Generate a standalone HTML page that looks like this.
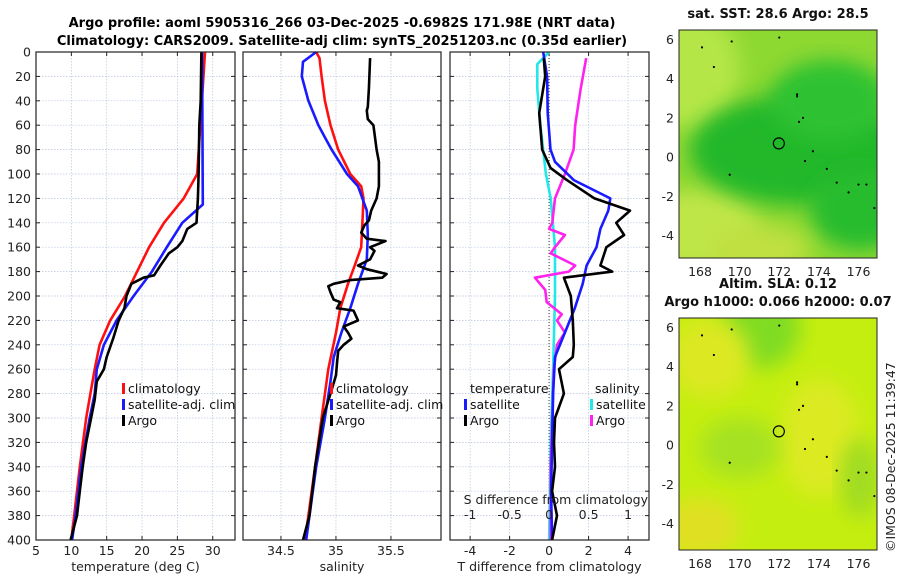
<!DOCTYPE html>
<html><head><meta charset="utf-8"><style>
body{margin:0;background:#fff;width:900px;height:580px;overflow:hidden;font-family:"DejaVu Sans","Liberation Sans",sans-serif;}
svg text{font-family:"DejaVu Sans","Liberation Sans",sans-serif;}
</style></head><body>
<svg id="fig" width="900" height="580" xmlns="http://www.w3.org/2000/svg">
<text x="342" y="27" text-anchor="middle" font-size="13" font-weight="bold">Argo profile: aoml 5905316_266 03-Dec-2025 -0.6982S 171.98E (NRT data)</text>
<text x="342" y="45" text-anchor="middle" font-size="13" font-weight="bold">Climatology: CARS2009. Satellite-adj clim: synTS_20251203.nc (0.35d earlier)</text>
<defs>
<filter id="bl" x="-20%" y="-20%" width="140%" height="140%"><feGaussianBlur stdDeviation="10"/></filter>
<clipPath id="c1"><rect x="679" y="30" width="198" height="228"/></clipPath>
<clipPath id="c2"><rect x="679" y="318" width="198" height="232"/></clipPath>
</defs>
<g id="maps"></g>
</svg>
<script>
// ---- profile data (depth in m) ----
const climDepth=[0,100,120,140,160,180,200,220,240,260,280,300,340,380,400];
const climTemp=[28.9,27.8,25.9,23.1,21,19.3,17.6,15.5,14,13.3,12.7,12.1,11.2,10.4,10];
const satDepth=[0,125,140,160,180,200,220,240,260,280,300,340,380,400];
const satTemp=[28.5,28.6,25.7,23.5,21.4,18.8,16.4,14.6,13.6,13.3,12.6,11.4,10.6,10.1];
const argoTDepth=[0,40,60,100,120,140,145,155,160,165,175,183,185,190,200,210,220,235,250,260,270,285,300,320,340,360,380,400];
const argoTemp=[28.4,28.3,28.1,28,27.9,27.7,26.4,25.7,25,23.8,22.6,21.7,20.2,18.5,17.8,17.5,16.7,15.9,15,14.6,13.6,13.3,12.8,12.1,11.6,11.2,10.8,9.9];
const climSDepth=[0,5,20,40,60,80,100,110,120,140,160,175,190,210,230,260,300,340,380,400];
const climSal=[34.82,34.85,34.87,34.9,34.95,35.02,35.13,35.23,35.25,35.24,35.23,35.17,35.11,35.04,35.0,34.93,34.87,34.81,34.75,34.72];
const satSDepth=[0,8,20,40,60,70,80,100,110,130,150,170,190,210,230,250,270,300,340,380,400];
const satSal=[34.82,34.7,34.69,34.75,34.84,34.9,34.96,35.1,35.2,35.28,35.29,35.28,35.2,35.13,35.05,34.98,34.95,34.9,34.82,34.76,34.73];
const argoSDepth=[5,30,45,48,55,60,80,90,110,120,130,138,142,148,153,155,160,163,170,175,178,182,185,187,190,192,197,203,205,210,212,220,225,230,235,240,245,255,265,280,300,340,380,400];
const argoSal=[35.31,35.3,35.29,35.28,35.29,35.34,35.37,35.39,35.39,35.37,35.32,35.3,35.26,35.23,35.28,35.45,35.31,35.35,35.31,35.2,35.28,35.46,35.42,35.13,34.98,34.93,34.95,34.98,35.04,35.01,35.16,35.2,35.07,35.11,35.14,35.07,35.02,35.01,35.0,34.95,34.88,34.81,34.76,34.7];
const dTsatDepth=[0,20,50,80,90,105,120,130,145,160,175,190,210,230,250,280,320,360,400];
const dTsat=[-0.3,-0.1,-0.07,0.07,0.3,1.25,3.1,3.0,2.6,2.4,1.9,1.7,1.3,0.8,0.3,0.2,0.15,0.1,0.15];
const dTargoDepth=[5,20,50,80,95,105,120,130,140,150,160,175,180,185,200,220,240,250,260,280,300,320,340,360,380,400];
const dTargo=[-0.27,-0.2,-0.5,-0.35,0.07,0.9,2.3,4.1,3.4,3.8,2.9,2.6,3.2,0.75,1.1,1.2,1.25,1.2,0.5,0.75,0.3,0.25,0.3,0.15,0.4,0.15];
const dSsatDepth=[0,10,30,60,100,120,160,200,260,320,400];
const dSsat=[0,-0.15,-0.15,-0.11,-0.04,0.02,0.075,0.075,0.05,0.02,0];
const dSargoDepth=[5,30,60,80,100,120,140,145,150,160,165,175,180,185,195,205,215,220,230,240,260,300,340,400];
const dSargo=[0.47,0.4,0.33,0.31,0.2,0.075,0.04,0,0.2,0.075,0.02,0.33,0.25,-0.18,-0.05,-0.03,0.16,0.1,0.2,0.1,0.06,0.04,0.02,0.02];
const depthTicks=[0,20,40,60,80,100,120,140,160,180,200,220,240,260,280,300,320,340,360,380,400];
const tTicks=[5,10,15,20,25,30];
const sTicks=[34.5,35,35.5];
const dtTicks=[-4,-2,0,2,4];
const dsTicks=[-1,-0.5,0,0.5,1];

const NS="http://www.w3.org/2000/svg";
const svg=document.getElementById('fig');
function el(tag,attrs,parent){const e=document.createElementNS(NS,tag);for(const k in attrs)e.setAttribute(k,attrs[k]);(parent||svg).appendChild(e);return e;}
const Y0=52,Y1=540;
function yD(d){return Y0+(d/400)*(Y1-Y0);}
function mkX(x0,x1,v0,v1){return v=>x0+(v-v0)/(v1-v0)*(x1-x0);}
const panels=[
 {x0:36,x1:235,v0:5,v1:33.15,ticks:tTicks,name:'temperature-panel',label:'temperature (deg C)'},
 {x0:243,x1:441,v0:34.155,v1:35.955,ticks:sTicks,name:'salinity-panel',label:'salinity'},
 {x0:450,x1:649,v0:-5.02,v1:5.06,ticks:dtTicks,name:'difference-panel',label:'T difference from climatology'}
];
panels.forEach((p,i)=>{
 p.X=mkX(p.x0,p.x1,p.v0,p.v1);
 const g=el('g',{});
 
 
 p.g=g;
 depthTicks.forEach(d=>{const l=el('line',{x1:p.x0,x2:p.x1,y1:yD(d),y2:yD(d),stroke:'#b8c4e0','stroke-width':0.7,'stroke-dasharray':'1.5,1.5'},g);
  
  el('line',{x1:p.x0,x2:p.x0+4,y1:yD(d),y2:yD(d),stroke:'#222','stroke-width':1},g);
  el('line',{x1:p.x1,x2:p.x1-4,y1:yD(d),y2:yD(d),stroke:'#222','stroke-width':1},g);
  if(i===0){const t=el('text',{x:31,y:yD(d)+4.5,'text-anchor':'end','font-size':12.5,fill:'#222'},g);t.textContent=d;
   }
 });
 p.ticks.forEach(v=>{const x=p.X(v);
  const l=el('line',{x1:x,x2:x,y1:Y0,y2:Y1,stroke:'#b8c4e0','stroke-width':0.7,'stroke-dasharray':'1.5,1.5'},g);
  
  el('line',{x1:x,x2:x,y1:Y1,y2:Y1-4,stroke:'#222'},g);el('line',{x1:x,x2:x,y1:Y0,y2:Y0+4,stroke:'#222'},g);
  const t=el('text',{x:x,y:555,'text-anchor':'middle','font-size':12.5,fill:'#222'},g);t.textContent=v;
  
 });
 const xl=el('text',{x:(p.x0+p.x1)/2,y:571,'text-anchor':'middle','font-size':12.5,fill:'#222'},g);xl.textContent=p.label;
 
});
function line(p,vals,deps,color,name,scale){
 const pts=vals.map((v,i)=>p.X(v*(scale||1)).toFixed(1)+','+yD(deps[i]).toFixed(1)).join(' ');
 const e=el('polyline',{points:pts,fill:'none',stroke:color,'stroke-width':2.6,'stroke-linejoin':'round'},p.g);
 
}
const [P1,P2,P3]=panels;
const z=el('line',{x1:P3.X(0),x2:P3.X(0),y1:Y0,y2:Y1,stroke:'#333','stroke-width':1,'stroke-dasharray':'1,2'},P3.g);

line(P1,climTemp,climDepth,'#ff1010','climatology-temperature-line');
line(P1,satTemp,satDepth,'#1a1aff','satellite-temperature-line');
line(P1,argoTemp,argoTDepth,'#000','argo-temperature-line');
line(P2,climSal,climSDepth,'#ff1010','climatology-salinity-line');
line(P2,satSal,satSDepth,'#1a1aff','satellite-salinity-line');
line(P2,argoSal,argoSDepth,'#000','argo-salinity-line');
line(P3,dSsat,dSsatDepth,'#22e8e8','satellite-salinity-diff-line',4);
line(P3,dSargo,dSargoDepth,'#ff22ee','argo-salinity-diff-line',4);
line(P3,dTsat,dTsatDepth,'#1a1aff','satellite-temperature-diff-line');
line(P3,dTargo,dTargoDepth,'#000','argo-temperature-diff-line');
const st=el('text',{x:P3.x1-1,y:504,'text-anchor':'end','font-size':12.5,fill:'#222'},P3.g);st.textContent='S difference from climatology';

dsTicks.forEach(v=>{const t=el('text',{x:P3.X(v*4),y:519,'text-anchor':'middle','font-size':12.5,fill:'#222'},P3.g);t.textContent=v;
 });
panels.forEach(p=>{const r=el('rect',{x:p.x0,y:Y0,width:p.x1-p.x0,height:Y1-Y0,fill:'none',stroke:'#222','stroke-width':1.2},p.g);
 });
function legend(g,x,y,color,txt,name){const m=el('rect',{x:x,y:y-10,width:3,height:11,fill:color},g);
 
 const t=el('text',{x:x+6,y:y,'font-size':12.5,fill:'#111'},g);t.textContent=txt;
 }
[[P1,122],[P2,330]].forEach(([p,x])=>{
 legend(p.g,x,393,'#ff1010','climatology','legend-climatology');
 legend(p.g,x,409,'#1a1aff','satellite-adj. clim','legend-satellite');
 legend(p.g,x,425,'#000','Argo','legend-argo');
});
const tt=el('text',{x:470,y:393,'font-size':12.5,fill:'#111'},P3.g);tt.textContent='temperature';
const ss=el('text',{x:595,y:393,'font-size':12.5,fill:'#111'},P3.g);ss.textContent='salinity';
legend(P3.g,464,409,'#1a1aff','satellite','legend-t-satellite');
legend(P3.g,464,425,'#000','Argo','legend-t-argo');
legend(P3.g,590,409,'#22e8e8','satellite','legend-s-satellite');
legend(P3.g,590,425,'#ff22ee','Argo','legend-s-argo');

// ---- maps ----
const lonTicks=[168,170,172,174,176];
const latTicks=[6,4,2,0,-2,-4];
const coastLon=[169.6,172,172.9,173.0,173.3,173.7,174.4,174.9,175.5,176.0,176.4,176.8,168.1,168.7,169.5,173.2,172.9,166.9];
const coastLat=[5.9,6.1,3.1,1.8,-0.2,0.3,-0.6,-1.3,-1.8,-1.4,-1.4,-2.6,5.6,4.6,-0.9,2.0,3.2,-0.5];
const mapsG=document.getElementById('maps');
function map(y0,y1,name,title,bg,blobs,clip){
 const g=el('g',{},mapsG);
 const X=mkX(700,858.5,168,176), lat6=y0+9.5, pxPerDeg=19.6;
 const Y=v=>lat6+(6-v)*pxPerDeg;
 const cg=el('g',{'clip-path':'url(#'+clip+')'},g);
 el('rect',{x:679,y:y0,width:198,height:y1-y0,fill:bg},cg);
 blobs.forEach(b=>el('ellipse',{cx:b[0],cy:y0+b[1],rx:b[2],ry:b[3],fill:b[4],filter:'url(#bl)'},cg));
 coastLon.forEach((lo,i)=>{const d=el('circle',{cx:X(lo),cy:Y(coastLat[i]),r:1.1,fill:'#000'},cg);});
 const c=el('circle',{cx:X(171.98),cy:Y(0.7),r:5.5,fill:'none',stroke:'#000','stroke-width':1.2},g);
 el('rect',{x:679,y:y0,width:198,height:y1-y0,fill:'none',stroke:'#222','stroke-width':1},g);
 lonTicks.forEach(v=>{const t=el('text',{x:X(v),y:y1+18,'text-anchor':'middle','font-size':12.5,fill:'#222'},g);t.textContent=v;});
 latTicks.forEach(v=>{const t=el('text',{x:674,y:Y(v)+4.5,'text-anchor':'end','font-size':12.5,fill:'#222'},g);t.textContent=v;});
 title.forEach((s,i)=>{const t=el('text',{x:778,y:y0-12-(title.length-1-i)*18,'text-anchor':'middle','font-size':13,'font-weight':'bold',fill:'#111'},g);t.textContent=s;});
}
map(30,258,'sst-map',['sat. SST: 28.6 Argo: 28.5'],'#8ed832',
 [[690,40,50,60,'#b4e646'],[700,200,60,40,'#bfe64a'],[800,120,110,55,'#22b82c'],[830,70,60,40,'#2ec232'],[860,180,50,40,'#28bc2e'],[760,220,50,25,'#c0e040']],'c1');
map(318,550,'sla-map',['Altim. SLA: 0.12','Argo h1000: 0.066 h2000: 0.07'],'#c4ee10',
 [[760,10,40,40,'#80dc20'],[820,120,40,60,'#dcea20'],[710,40,40,40,'#dce820'],[740,130,40,30,'#a6e220'],[860,160,20,40,'#a0dc20'],[700,210,40,30,'#e0e024']],'c2');
const cp=el('text',{x:0,y:0,'font-size':12.5,fill:'#222',transform:'translate(895,552) rotate(-90)'});cp.textContent='©IMOS 08-Dec-2025 11:39:47';

</script>
</body></html>
